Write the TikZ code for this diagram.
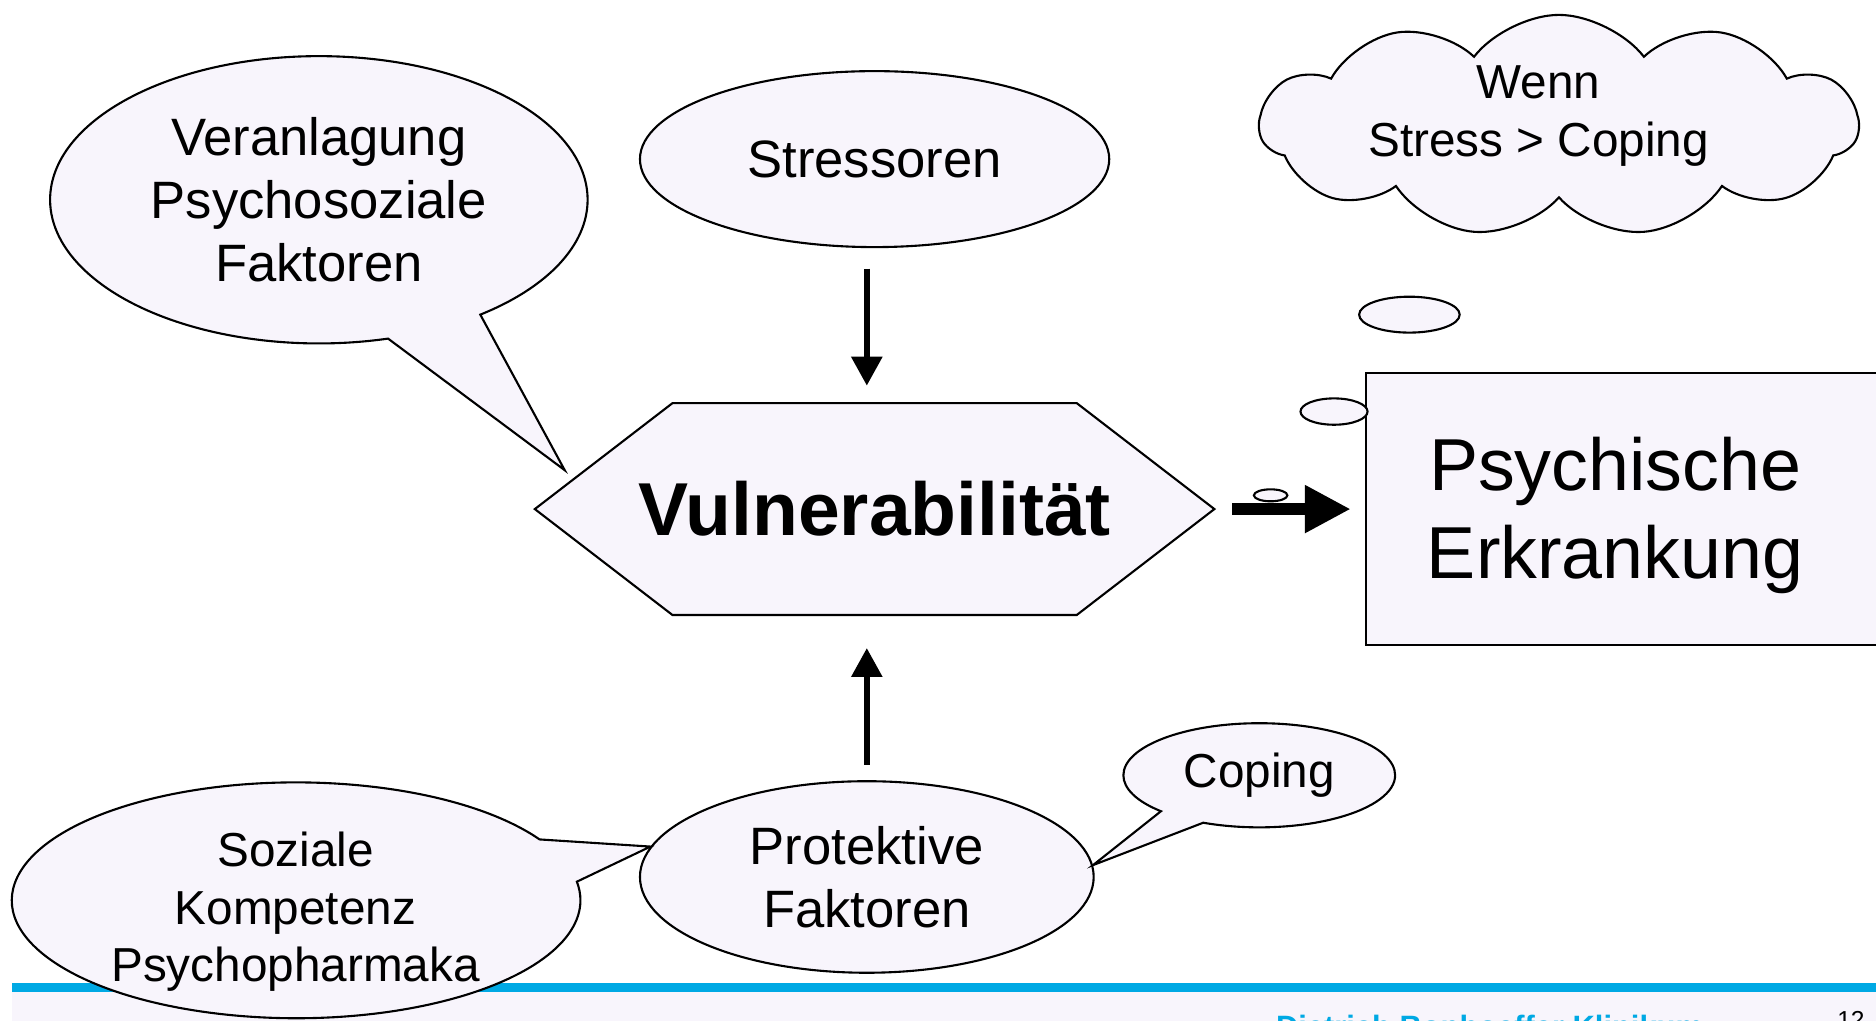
\documentclass[tikz,border=0pt]{standalone}
\usepackage{fontspec}
\setmainfont{Liberation Sans}
\usetikzlibrary{shapes.geometric,shapes.callouts,shapes.symbols,arrows.meta}
\definecolor{bubble}{RGB}{248,245,252}
\definecolor{footblue}{RGB}{0,169,228}
\tikzstyle{blob}=[ellipse,draw,fill=bubble,line width=0.6pt,inner sep=-0.3cm,align=center]
\tikzstyle{talk}=[ellipse callout,draw,fill=bubble,line width=0.6pt,inner sep=-0.3cm,align=center,callout pointer arc=22]
\tikzstyle{edge}=[draw,line width=1.7pt,-{Triangle[length=0.29cm,width=0.3cm]}]
\tikzstyle{bigedge}=[draw,line width=3.4pt,-{Triangle[length=0.46cm,width=0.45cm]}]
\tikzstyle{big}=[font=\fontsize{15pt}{18pt}\selectfont]
\tikzstyle{small}=[font=\fontsize{13.6pt}{16.4pt}\selectfont]

\begin{document}
\begin{tikzpicture}[x=0.012cm,y=-0.012cm]
        \path[use as bounding box,clip] (0,0) rectangle (1568,853);
        % footer
        \fill[footblue] (10,822) rectangle (1568,829);
        \fill[bubble] (10,829) rectangle (1568,853);
        \node[anchor=base west,inner sep=0pt,text=footblue,font=\bfseries\fontsize{8.8pt}{10pt}\selectfont] (klinik) at (1066,867) {Dietrich Bonhoeffer Klinikum};
        \node[anchor=base west,inner sep=0pt,font=\fontsize{7pt}{8pt}\selectfont] (seite) at (1535,860) {12};

        \node[blob,big,minimum width=4.704cm,minimum height=1.764cm] (stress) at (731,133) {Stressoren};
        \node[blob,big,minimum width=4.548cm,minimum height=1.92cm] (prot) at (724.5,733) {Protektive\\Faktoren};
        \node[talk,big,minimum width=5.388cm,minimum height=2.88cm,callout absolute pointer={(472,393)}] (anlage) at (266.5,167) {Veranlagung\\Psychosoziale\\Faktoren};
        \node[talk,minimum width=5.7cm,minimum height=2.364cm,callout absolute pointer={(prot.172)}] (sozial) at (247.5,752.5) {};
        \node[small,align=center] (sozialtext) at (247,762) {Soziale\\Kompetenz\\Psychopharmaka};
        \node[talk,small,minimum width=2.724cm,minimum height=1.044cm,callout absolute pointer={(prot.3)}] (coping) at (1052.5,648) {Coping};

        \draw[fill=bubble,line width=0.6pt] (447,425.5) -- (562,337) -- (900,337) -- (1015,425.5) -- (900,514) -- (562,514) -- cycle;
        \node[minimum width=6.816cm,minimum height=2.124cm,inner sep=0pt,font=\bfseries\fontsize{21.4pt}{25pt}\selectfont] (vul) at (731,425.5) {Vulnerabilität};

        \node[rectangle,draw,fill=bubble,line width=0.6pt,minimum width=5.184cm,minimum height=2.724cm] (erk) at (1358,425.5) {};
        \node[align=center,font=\fontsize{21pt}{25.2pt}\selectfont] (erktext) at (1350,431) {Psychische\\Erkrankung};

        \node[cloud,cloud puffs=11,cloud puff arc=105,aspect=2.7,draw,fill=bubble,line width=0.6pt,minimum width=6cm,minimum height=2.22cm,inner sep=0pt] (wolke) at (1303,105) {};
        \node[small,align=center] (wenn) at (1286,97) {Wenn\\Stress > Coping};
        \node[blob,minimum width=1.008cm,minimum height=0.36cm,inner sep=0pt] (t1) at (1178,263) {};
        \node[blob,minimum width=0.672cm,minimum height=0.264cm,inner sep=0pt] (t2) at (1115,344) {};
        \node[blob,minimum width=0.336cm,minimum height=0.12cm,inner sep=0pt] (t3) at (1062,414) {};

        \path[edge,shorten <=0.204cm,shorten >=0.168cm] (stress.south -| prot.north) -- (vul.north -| prot.north);
        \path[edge,shorten <=0.156cm,shorten >=0.324cm] (prot.north) -- (vul.south -| prot.north);
        \path[bigedge,shorten <=0.168cm,shorten >=0.144cm] (vul.east) -- (erk.west);
\end{tikzpicture}
\end{document}
